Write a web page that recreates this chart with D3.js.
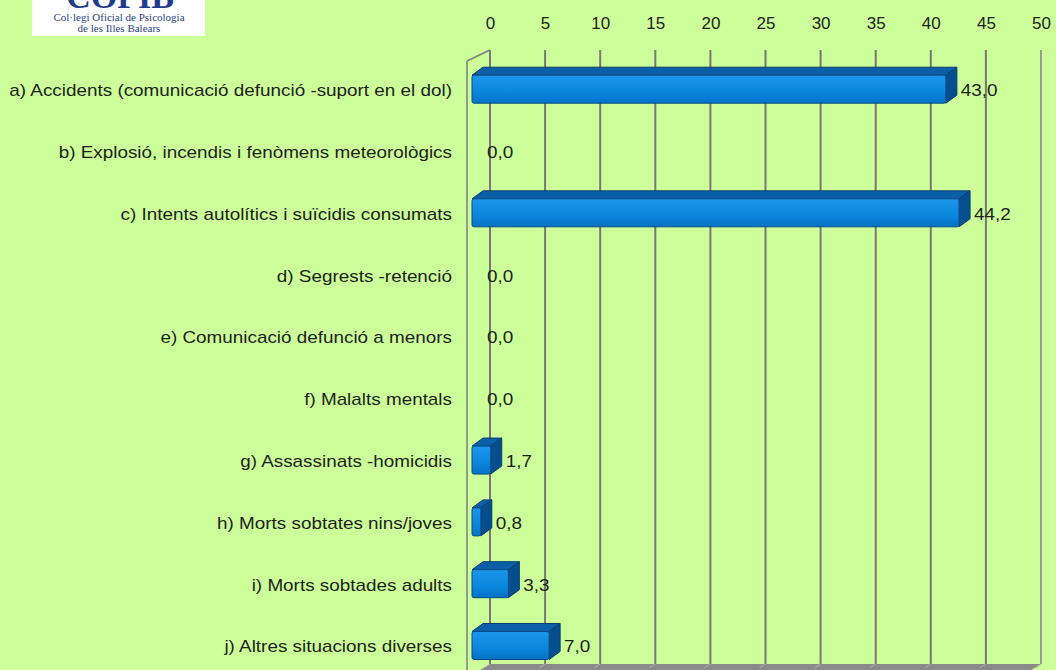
<!DOCTYPE html>
<html>
<head>
<meta charset="utf-8">
<script src="https://cdn.jsdelivr.net/npm/d3@7"></script>
<style>
  html, body { margin: 0; padding: 0; background: #ccff99; }
  svg { display: block; }
</style>
</head>
<body>
<svg id="chart" width="1056" height="670"></svg>
<script>
const categories = [
  "a) Accidents (comunicació defunció -suport en el dol)",
  "b) Explosió, incendis i fenòmens meteorològics",
  "c) Intents autolítics i suïcidis consumats",
  "d) Segrests -retenció",
  "e) Comunicació defunció a menors",
  "f) Malalts mentals",
  "g) Assassinats -homicidis",
  "h) Morts sobtates nins/joves",
  "i) Morts sobtades adults",
  "j) Altres situacions diverses"
];
const values = [43.0, 0.0, 44.2, 0.0, 0.0, 0.0, 1.7, 0.8, 3.3, 7.0];
const tickValues = [0, 5, 10, 15, 20, 25, 30, 35, 40, 45, 50];

const svg = d3.select("#chart");
const W = 1056, H = 670;
svg.append("rect").attr("width", W).attr("height", H).attr("fill", "#ccff99");

// front plane scale and 3D offsets
const x = d3.scaleLinear().domain([0, 50]).range([472, 1023]);
const y = d3.scalePoint().domain(categories).range([89.2, 645.5]);
const wallDx = 18, wallDy = -11;
const barDx = 11, barDy = -8;
const barHalf = 14;
const wallTop = 50, wallBottom = 664;
const FONT = "Liberation Sans, Arial, sans-serif";
const STRETCH = 1.11;

function stretch(sel) {
  sel.each(function () {
    const L = this.getComputedTextLength();
    if (L > 0) {
      this.setAttribute("textLength", L * STRETCH);
      this.setAttribute("lengthAdjust", "spacingAndGlyphs");
    }
  });
}

// Floor
svg.append("polygon")
  .attr("points", [
    [x(0) + wallDx, wallBottom], [x(50) + wallDx, wallBottom],
    [x(50) - 5, wallBottom + 14], [x(0) - 5, wallBottom + 14]
  ].map(p => p.join(",")).join(" "))
  .attr("fill", "#8a8a8a");

// Left wall edges
const lw = svg.append("g").attr("stroke", "#7d7d7d").attr("stroke-width", 1.5).attr("fill", "none");
lw.append("line").attr("x1", 467).attr("y1", 61).attr("x2", 467).attr("y2", 675);
lw.append("line").attr("x1", 467).attr("y1", 61).attr("x2", x(0) + wallDx).attr("y2", wallTop);

// Back wall gridlines
const grid = svg.append("g");
grid.selectAll("line.g").data(tickValues).join("line")
  .attr("class", "g")
  .attr("x1", d => x(d) + wallDx).attr("x2", d => x(d) + wallDx)
  .attr("y1", wallTop).attr("y2", wallBottom)
  .attr("stroke", d => d === 50 ? "#9a9a9a" : "#777")
  .attr("stroke-width", 2);
grid.selectAll("line.f").data(tickValues).join("line")
  .attr("class", "f")
  .attr("x1", d => x(d) + wallDx).attr("x2", d => x(d) + wallDx - 6)
  .attr("y1", wallBottom).attr("y2", wallBottom + 4)
  .attr("stroke", "#b0b0b0").attr("stroke-width", 1);

// Top axis labels
const axis = d3.axisTop(x.copy().range([x(0) + wallDx, x(50) + wallDx]))
  .tickValues(tickValues).tickSize(0).tickPadding(0).tickFormat(d3.format("d"));
const ax = svg.append("g").attr("transform", "translate(0,29)").call(axis);
ax.select(".domain").remove();
ax.selectAll("text")
  .attr("font-family", FONT)
  .attr("font-size", 17).attr("fill", "#222");

// Category labels
svg.append("g").selectAll("text").data(categories).join("text")
  .attr("x", 452).attr("y", d => y(d) + 1)
  .attr("dy", "0.35em")
  .attr("text-anchor", "end")
  .attr("font-family", FONT)
  .attr("font-size", 17).attr("fill", "#1e1e1e")
  .text(d => d)
  .call(stretch);

// Bars
const rows = categories.map((c, i) => ({ c, v: values[i] }));
const defs = svg.append("defs");
const grad = defs.append("linearGradient").attr("id", "front").attr("x1", 0).attr("y1", 0).attr("x2", 0).attr("y2", 1);
grad.append("stop").attr("offset", "0%").attr("stop-color", "#1a96ec");
grad.append("stop").attr("offset", "60%").attr("stop-color", "#0a86de");
grad.append("stop").attr("offset", "100%").attr("stop-color", "#0672c4");

const bars = svg.append("g").selectAll("g").data(rows.filter(r => r.v > 0)).join("g");
const pts = a => a.map(p => p.join(",")).join(" ");
bars.append("polygon")
  .attr("points", d => {
    const x0 = x(0), x1 = x(d.v), t = y(d.c) - barHalf;
    return pts([[x0, t], [x0 + barDx, t + barDy], [x1 + barDx, t + barDy], [x1, t]]);
  })
  .attr("fill", "#0b5fa6").attr("stroke", "#0b3f72").attr("stroke-width", 1).attr("stroke-linejoin", "round");
bars.append("polygon")
  .attr("points", d => {
    const x1 = x(d.v), t = y(d.c) - barHalf, b = y(d.c) + barHalf;
    return pts([[x1, t], [x1 + barDx, t + barDy], [x1 + barDx, b + barDy], [x1, b]]);
  })
  .attr("fill", "#054f8e").attr("stroke", "#0b3f72").attr("stroke-width", 1).attr("stroke-linejoin", "round");
bars.append("rect")
  .attr("x", x(0)).attr("y", d => y(d.c) - barHalf)
  .attr("width", d => x(d.v) - x(0)).attr("height", barHalf * 2)
  .attr("rx", 2)
  .attr("fill", "url(#front)").attr("stroke", "#0b4a86").attr("stroke-width", 1);

// Value labels
const fmt = d3.format(".1f");
svg.append("g").selectAll("text").data(rows).join("text")
  .attr("x", d => x(d.v) + barDx + 4)
  .attr("y", d => y(d.c) + 1)
  .attr("dy", "0.35em")
  .attr("font-family", FONT)
  .attr("font-size", 17).attr("fill", "#1e1e1e")
  .text(d => fmt(d.v).replace(".", ","))
  .call(stretch);

// Logo
const logo = svg.append("g");
logo.append("rect").attr("x", 32).attr("y", 0).attr("width", 173).attr("height", 36).attr("fill", "#ffffff");
logo.append("text").attr("x", 120).attr("y", 8).attr("text-anchor", "middle")
  .attr("font-family", "Liberation Serif, serif").attr("font-size", 34).attr("font-weight", "bold")
  .attr("fill", "#1f3c8c").text("COPIB");
logo.append("text").attr("x", 119).attr("y", 21).attr("text-anchor", "middle")
  .attr("font-family", "Liberation Serif, serif").attr("font-size", 11)
  .attr("fill", "#2b3f80").text("Col·legi Oficial de Psicologia");
logo.append("text").attr("x", 119).attr("y", 32).attr("text-anchor", "middle")
  .attr("font-family", "Liberation Serif, serif").attr("font-size", 11)
  .attr("fill", "#2b3f80").text("de les Illes Balears");
</script>
</body>
</html>
